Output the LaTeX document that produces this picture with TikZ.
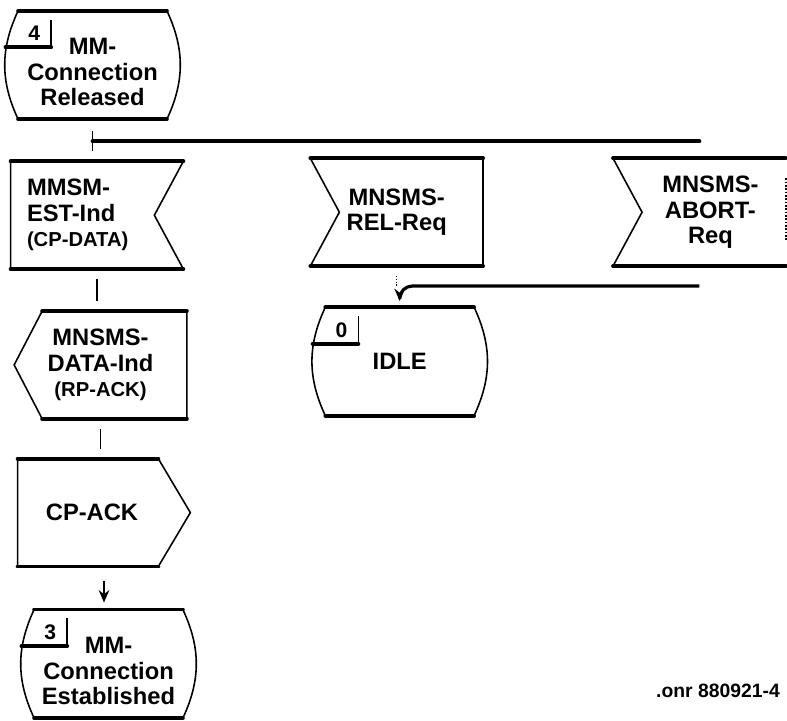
\documentclass[tikz,border=0pt]{standalone}
\usepackage{fontspec}
\setsansfont{Liberation Sans}
\usepackage{tikz}
\usetikzlibrary{positioning, arrows.meta}
\newcommand{\subsig}[1]{{\fontsize{11.5}{12}\selectfont #1}}

\begin{document}
\begin{tikzpicture}[
    node distance=0.84cm and 2.54cm,
    statebox/.style={
        rectangle,
        inner sep=0pt,
        align=center,
        minimum width=2.96cm,
        minimum height=2.16cm,
        font=\fontsize{13.5}{14.5}\selectfont\bfseries\sffamily
    },
    sigbox/.style={
        rectangle,
        inner sep=0pt,
        align=center,
        minimum width=3.44cm,
        minimum height=2.14cm,
        font=\fontsize{13.5}{14.5}\selectfont\bfseries\sffamily
    },
    tagbox/.style={
        rectangle,
        inner sep=0pt,
        minimum width=0.66cm,
        minimum height=0.54cm,
        font=\fontsize{12}{12}\selectfont\bfseries\sffamily
    },
    heavy/.style={line width=2.2pt, line cap=round},
    side/.style={line width=0.9pt, line join=round},
    link/.style={line width=0.6pt, shorten <=0.2cm, shorten >=0.2cm},
    arrow/.style={
        line width=0.7pt,
        ->,
        >={Stealth[length=7pt, width=6pt]}
    }
]
\useasboundingbox (0,0) rectangle (15.74,-14.4);

% Nodes
\node (state4) [statebox] at (1.85,-1.30) {\rule{0pt}{0.62cm}MM-\\Connection\\Released};
\node (mmsm) [sigbox, below=of state4, xshift=0.09cm, align=left, text width=2.8cm] {MMSM-\\EST-Ind\\\subsig{(CP-DATA)}};
\node (datain) [sigbox, below=of mmsm, xshift=0.07cm] {MNSMS-\\DATA-Ind\\\subsig{(RP-ACK)}};
\node (cpack) [sigbox, below=0.8cm of datain, xshift=0.07cm] {\hspace*{-0.48cm}CP-ACK};
\node (state3) [statebox, below=0.86cm of cpack, xshift=0.09cm] {\rule{0pt}{0.62cm}MM-\\Connection\\Established};

\node (relreq) [sigbox, right=of mmsm, yshift=0.06cm] {MNSMS-\\REL-Req};
\node (abortreq) [sigbox, right=2.6cm of relreq] {\hspace*{0.44cm}MNSMS-\\\hspace*{0.44cm}ABORT-\\\hspace*{0.44cm}Req};
\node (idle) [statebox, below=0.82cm of relreq, xshift=0.06cm] {IDLE};

\node (docref) [font=\fontsize{11}{12}\selectfont\bfseries\sffamily] at (14.36,-13.82) {.onr 880921-4};

% State outlines
\foreach \s in {state4, idle, state3} {
    \draw[side] (\s.north west) to[bend right=25] (\s.south west);
    \draw[side] (\s.north east) to[bend left=25] (\s.south east);
    \draw[heavy] (\s.north west) -- (\s.north east) (\s.south west) -- (\s.south east);
}
\foreach \s/\n in {state4/4, idle/0, state3/3} {
    \node (tag\n) [tagbox, anchor=north east] at ([xshift=0.66cm, yshift=-0.18cm]\s.north west) {\n};
    \draw[side] (tag\n.north east) -- (tag\n.south east);
    \draw[heavy] ([xshift=-0.24cm]tag\n.south west) -- (tag\n.south east);
}

% Signal outlines
\draw[side] (mmsm.north west) -- (mmsm.south west)
            (mmsm.north east) -- ([xshift=-0.58cm]mmsm.east) -- (mmsm.south east);
\draw[heavy] (mmsm.north west) -- (mmsm.north east) (mmsm.south west) -- (mmsm.south east);

\foreach \s in {relreq, abortreq} {
    \draw[side] (\s.north west) -- ([xshift=0.58cm]\s.west) -- (\s.south west);
    \draw[heavy] (\s.north west) -- (\s.north east) (\s.south west) -- (\s.south east);
}
\draw[side] (relreq.north east) -- (relreq.south east);
\draw[side, densely dotted] ([yshift=-0.4cm]abortreq.north east) -- ([yshift=0.5cm]abortreq.south east);

\draw[side] ([xshift=0.56cm]datain.north west) -- (datain.west) -- ([xshift=0.56cm]datain.south west)
            (datain.north east) -- (datain.south east);
\draw[heavy] ([xshift=0.56cm]datain.north west) -- (datain.north east)
             ([xshift=0.56cm]datain.south west) -- (datain.south east);

\draw[side] (cpack.north west) -- (cpack.south west)
            ([xshift=-0.64cm]cpack.north east) -- (cpack.east) -- ([xshift=-0.64cm]cpack.south east);
\draw[heavy] (cpack.north west) -- ([xshift=-0.64cm]cpack.north east)
             (cpack.south west) -- ([xshift=-0.64cm]cpack.south east);

% Connections
\coordinate [below=0.44cm of state4] (fork);
\coordinate [below=0.4cm of abortreq] (merge);

\draw[heavy] (fork) -- (fork -| abortreq);
\draw[link, shorten <=0.24cm] (state4.south) -- (state4.south |- mmsm.north);
\draw[link] (mmsm) -- (mmsm |- datain.north);
\draw[link] (datain) -- (datain |- cpack.north);
\draw[arrow, shorten <=0.3cm, shorten >=0.14cm] (cpack) -- (cpack |- state3.north);

\draw[link, densely dotted, shorten >=0cm] (relreq) -- (relreq |- merge);
\draw[arrow, line width=1.8pt, rounded corners=0.25cm, shorten >=0.12cm] (merge) -| (idle);

\end{tikzpicture}
\end{document}
